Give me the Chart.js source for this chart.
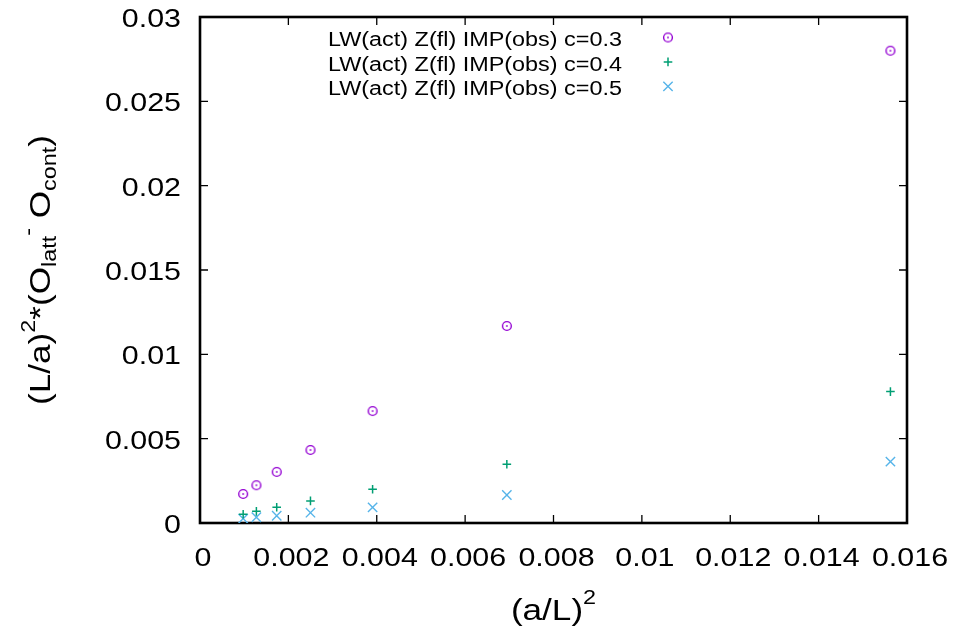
<!DOCTYPE html>
<html>
<head>
<meta charset="utf-8">
<script src="https://cdn.jsdelivr.net/npm/chart.js@4/dist/chart.umd.min.js"></script>
<style>body{margin:0;background:#fff}</style>
</head>
<body>
<canvas id="myChart" width="957" height="627"></canvas>
<script>
// (a/L)^2 for L = 32, 28, 24, 20, 16, 12, 8
const xValues = [0.000977, 0.001276, 0.001736, 0.0025, 0.003906, 0.006944, 0.015625];
const c03 = [0.00172, 0.00224, 0.00303, 0.00433, 0.00664, 0.01168, 0.0280];
const c04 = [0.00052, 0.00069, 0.00093, 0.00131, 0.00200, 0.00348, 0.00779];
const c05 = [0.00026, 0.00034, 0.00043, 0.00061, 0.00093, 0.00166, 0.00364];
const seriesLabels = ["LW(act) Z(fl) IMP(obs) c=0.3", "LW(act) Z(fl) IMP(obs) c=0.4", "LW(act) Z(fl) IMP(obs) c=0.5"];

const xTickValues = [0, 0.002, 0.004, 0.006, 0.008, 0.01, 0.012, 0.014, 0.016];
const xTickLabels = ["0", "0.002", "0.004", "0.006", "0.008", "0.01", "0.012", "0.014", "0.016"];
const yTickValues = [0, 0.005, 0.01, 0.015, 0.02, 0.025, 0.03];
const yTickLabels = ["0", "0.005", "0.01", "0.015", "0.02", "0.025", "0.03"];

const FONT = "'Liberation Sans', Arial, sans-serif";
const STRETCH = 1.17;

// circle with a dot in the middle (gnuplot style)
function circleDot(color) {
  const c = document.createElement("canvas");
  c.width = 14; c.height = 14;
  const g = c.getContext("2d");
  g.strokeStyle = color; g.fillStyle = color; g.lineWidth = 1.4;
  g.beginPath(); g.arc(7, 7, 4.4, 0, Math.PI * 2); g.stroke();
  g.fillRect(6.2, 6.2, 1.6, 1.6);
  return c;
}

const toPts = (ys) => xValues.map((x, i) => ({ x: x, y: ys[i] }));

function stretchText(ctx, str, x, y, align, size) {
  ctx.save();
  ctx.font = size + "px " + FONT;
  ctx.translate(x, y);
  ctx.scale(STRETCH, 1);
  ctx.textAlign = align;
  ctx.textBaseline = "alphabetic";
  ctx.fillText(str, 0, 0);
  ctx.restore();
}

// parts: [{t, size, dy}], drawn centred on cx, baseline at 0 (in local coords)
function richText(ctx, parts) {
  let total = 0;
  parts.forEach((p) => { ctx.font = p.size + "px " + FONT; p.w = ctx.measureText(p.t).width * STRETCH; total += p.w; });
  let x = -total / 2;
  parts.forEach((p) => {
    ctx.save();
    ctx.font = p.size + "px " + FONT;
    ctx.translate(x, p.dy);
    ctx.scale(STRETCH, 1);
    ctx.textAlign = "left";
    ctx.fillText(p.t, 0, 0);
    ctx.restore();
    x += p.w;
  });
}

const frame = {
  id: "frame",
  beforeDatasetsDraw(chart) {
    const { ctx, chartArea: a, scales: { x, y } } = chart;
    ctx.save();
    ctx.strokeStyle = "#000";
    ctx.lineWidth = 1.3;
    ctx.beginPath();
    xTickValues.forEach((v) => {
      const px = x.getPixelForValue(v);
      ctx.moveTo(px, a.bottom); ctx.lineTo(px, a.bottom - 8);
      ctx.moveTo(px, a.top); ctx.lineTo(px, a.top + 8);
    });
    yTickValues.forEach((v) => {
      const py = y.getPixelForValue(v);
      ctx.moveTo(a.left, py); ctx.lineTo(a.left + 8, py);
      ctx.moveTo(a.right, py); ctx.lineTo(a.right - 8, py);
    });
    ctx.stroke();
    ctx.lineWidth = 2.6;
    ctx.strokeRect(a.left, a.top, a.right - a.left, a.bottom - a.top);
    ctx.restore();
  },
  afterDraw(chart) {
    const { ctx, chartArea: a, scales: { x, y } } = chart;
    ctx.save();
    ctx.fillStyle = "#000";
    xTickValues.forEach((v, i) => {
      stretchText(ctx, xTickLabels[i], x.getPixelForValue(v) + 3, a.bottom + 43, "center", 26);
    });
    yTickValues.forEach((v, i) => {
      stretchText(ctx, yTickLabels[i], a.left - 19, y.getPixelForValue(v) + 10, "right", 26);
    });

    // x title
    ctx.save();
    ctx.translate((a.left + a.right) / 2, 620);
    richText(ctx, [{ t: "(a/L)", size: 30, dy: 0 }, { t: "2", size: 20, dy: -16 }]);
    ctx.restore();

    // y title
    ctx.save();
    ctx.translate(50, (a.top + a.bottom) / 2);
    ctx.rotate(-Math.PI / 2);
    richText(ctx, [
      { t: "(L/a)", size: 30, dy: 0 },
      { t: "2", size: 20, dy: -15 },
      { t: "*(O", size: 30, dy: 0 },
      { t: "latt", size: 20, dy: 6 },
      { t: "-", size: 20, dy: -15 },
      { t: " O", size: 30, dy: 0 },
      { t: "cont", size: 20, dy: 6 },
      { t: ")", size: 30, dy: 0 }
    ]);
    ctx.restore();

    // key
    chart.data.datasets.forEach((ds, i) => {
      const cy = 37.5 + i * 24.4;
      ctx.fillStyle = "#000";
      stretchText(ctx, ds.label, 622, cy + 8.8, "right", 20);
      ctx.strokeStyle = ds.borderColor;
      ctx.fillStyle = ds.borderColor;
      ctx.lineWidth = ds.borderWidth;
      Chart.helpers.drawPoint(ctx, { pointStyle: ds.pointStyle, radius: ds.pointRadius, borderWidth: ds.borderWidth, rotation: 0 }, 668, cy);
    });
    ctx.restore();
  }
};

const config = {
  type: "scatter",
  data: {
    datasets: [
      { label: seriesLabels[0], data: toPts(c03), pointStyle: circleDot("#9400d3"), pointRadius: 5, borderColor: "#9400d3", backgroundColor: "#9400d3", borderWidth: 1.4 },
      { label: seriesLabels[1], data: toPts(c04), pointStyle: "cross", pointRadius: 4.3, borderColor: "#009e73", backgroundColor: "#009e73", borderWidth: 1.5 },
      { label: seriesLabels[2], data: toPts(c05), pointStyle: "crossRot", pointRadius: 6.6, borderColor: "#56b4e9", backgroundColor: "#56b4e9", borderWidth: 1.4 }
    ]
  },
  options: {
    responsive: false,
    animation: false,
    devicePixelRatio: 1,
    layout: { padding: { left: 0, right: 50, top: 17, bottom: 0 } },
    plugins: { legend: { display: false }, tooltip: { enabled: false } },
    scales: {
      x: {
        type: "linear", min: 0, max: 0.016,
        grid: { display: false }, border: { display: false },
        ticks: { display: false, stepSize: 0.002 },
        afterFit: (s) => { s.height = 104; }
      },
      y: {
        type: "linear", min: 0, max: 0.03,
        grid: { display: false }, border: { display: false },
        ticks: { display: false, stepSize: 0.005 },
        afterFit: (s) => { s.width = 200; }
      }
    }
  },
  plugins: [frame]
};

new Chart(document.querySelector("#myChart"), config);
</script>
</body>
</html>
